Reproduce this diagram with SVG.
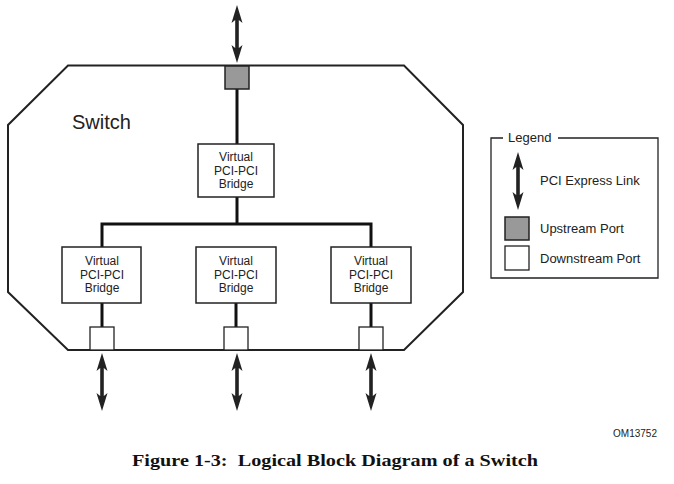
<svg xmlns="http://www.w3.org/2000/svg" width="674" height="484" viewBox="0 0 674 484">
<defs>
<style>
.sans{font-family:"Liberation Sans",Arial,sans-serif;fill:#222}
.br{font-size:12px;text-anchor:middle}
.lg{font-size:13px}
.box{fill:#fff;stroke:#222;stroke-width:1.5}
.up{fill:#999;stroke:#222;stroke-width:1.5}
.dn{fill:#fff;stroke:#222;stroke-width:1.3}
.wire{stroke:#111;stroke-width:3;fill:none}
.arr{fill:#222}
</style>
<path id="dblarrow" d="M0,0 L5.5,18 L1.8,15 L1.8,43 L5.5,40 L0,58 L-5.5,40 L-1.8,43 L-1.8,15 L-5.5,18 Z"/>
</defs>
<rect width="674" height="484" fill="#fff"/>
<g id="switch">
<polygon points="68,65.5 404,65.5 463,125 463,292 404,350 68,350 8,292 8,125" fill="none" stroke="#222" stroke-width="2"/>
<text class="sans" x="72" y="129" font-size="20">Switch</text>
</g>
<g id="connectors">
<line class="wire" x1="237" y1="89" x2="237" y2="144"/>
<line class="wire" x1="237" y1="197" x2="237" y2="224"/>
<polyline class="wire" points="102,247 102,224 371,224 371,247"/>
<line class="wire" x1="102" y1="303" x2="102" y2="327"/>
<line class="wire" x1="236" y1="303" x2="236" y2="327"/>
<line class="wire" x1="371" y1="303" x2="371" y2="327"/>
<use href="#dblarrow" class="arr" x="237" y="5"/>
<use href="#dblarrow" class="arr" x="102" y="353"/>
<use href="#dblarrow" class="arr" x="237" y="353"/>
<use href="#dblarrow" class="arr" x="371" y="353"/>
</g>
<g id="upstream-port">
<rect class="up" x="225" y="66" width="24" height="23"/>
</g>
<g id="bridge-top">
<rect class="box" x="198" y="144" width="76" height="53"/>
<text class="sans br" x="236" y="161">Virtual</text>
<text class="sans br" x="236" y="174.5">PCI-PCI</text>
<text class="sans br" x="236" y="188">Bridge</text>
</g>
<g id="bridge-left">
<rect class="box" x="62" y="247" width="79" height="56"/>
<text class="sans br" x="102" y="265">Virtual</text>
<text class="sans br" x="102" y="278.5">PCI-PCI</text>
<text class="sans br" x="102" y="292">Bridge</text>
</g>
<g id="bridge-mid">
<rect class="box" x="196" y="247" width="80" height="56"/>
<text class="sans br" x="236" y="265">Virtual</text>
<text class="sans br" x="236" y="278.5">PCI-PCI</text>
<text class="sans br" x="236" y="292">Bridge</text>
</g>
<g id="bridge-right">
<rect class="box" x="331" y="247" width="80" height="56"/>
<text class="sans br" x="371" y="265">Virtual</text>
<text class="sans br" x="371" y="278.5">PCI-PCI</text>
<text class="sans br" x="371" y="292">Bridge</text>
</g>
<g id="downstream-ports">
<rect class="dn" x="90" y="327" width="24" height="23"/>
<rect class="dn" x="224" y="327" width="24" height="23"/>
<rect class="dn" x="359" y="327" width="24" height="23"/>
</g>
<g id="legend">
<polyline points="503,138 491,138 491,278 658,278 658,138 558,138" fill="none" stroke="#222" stroke-width="1.3"/>
<text class="sans lg" x="508" y="142">Legend</text>
<use href="#dblarrow" class="arr" x="518" y="152"/>
<text class="sans lg" x="540" y="185">PCI Express Link</text>
<rect class="up" x="505" y="217" width="24" height="23"/>
<text class="sans lg" x="540" y="233">Upstream Port</text>
<rect class="dn" x="505" y="246" width="24" height="24"/>
<text class="sans lg" x="540" y="263">Downstream Port</text>
</g>
<text class="sans" x="657" y="437" font-size="10" text-anchor="end">OM13752</text>
<text x="132" y="466" xml:space="preserve" textLength="406" lengthAdjust="spacingAndGlyphs" font-family="'Liberation Serif','Times New Roman',serif" font-weight="bold" font-size="17.5" fill="#111">Figure 1-3:  Logical Block Diagram of a Switch</text>
</svg>
